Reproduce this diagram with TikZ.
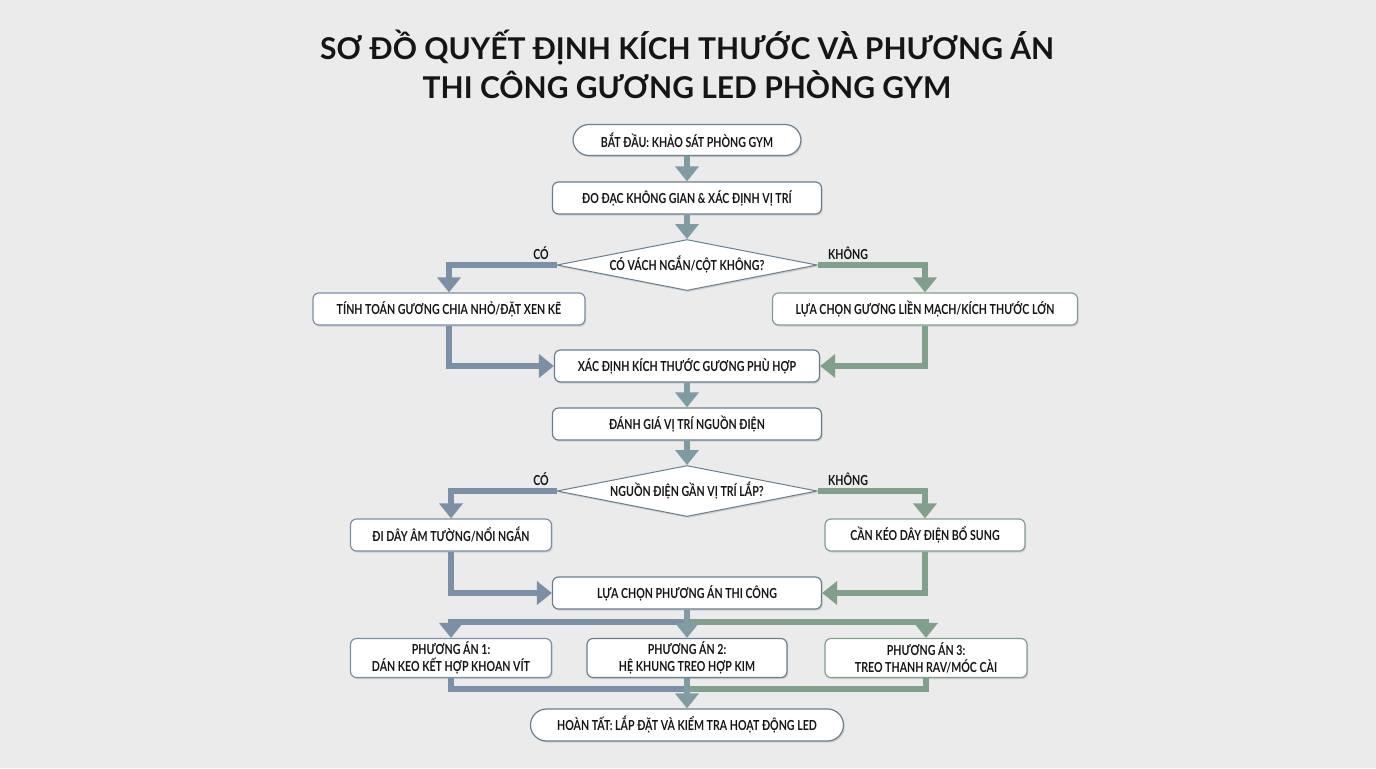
\documentclass[tikz,border=0pt]{standalone}
\usepackage{fontspec}
\setmainfont{Lato}
\newfontfamily\bodyfont{Lato}[FakeStretch=0.77]
\usetikzlibrary{shapes.geometric,arrows.meta,shadows}
\definecolor{bgc}{HTML}{EBEBEB}
\definecolor{colL}{HTML}{7B8FA6}
\definecolor{colR}{HTML}{80A08B}
\definecolor{colC}{HTML}{7F9CA2}
\definecolor{bordC}{HTML}{6A7F8E}
\definecolor{txt}{HTML}{151515}
\tikzset{
  x=0.5pt, y=-0.5pt,
  shad/.style={drop shadow={shadow xshift=0.6pt, shadow yshift=-0.8pt, opacity=0.22, fill=black!60}},
  box/.style={draw=#1, line width=0.6pt, fill=white, rounded corners=3pt, shad,
    font=\bodyfont\bfseries\fontsize{6.9}{8.2}\selectfont, text=txt, align=center,
    inner sep=1pt, minimum height=16pt},
  box/.default=bordC,
  pill/.style={box, rounded corners=8pt},
  dec/.style={diamond, draw=bordC, line width=0.5pt, fill=white, shad, aspect=5.1,
    inner sep=0pt, minimum width=130pt, minimum height=25.5pt,
    font=\bodyfont\bfseries\fontsize{6.9}{8.2}\selectfont, text=txt},
  lbl/.style={font=\bodyfont\bfseries\fontsize{6.9}{8.2}\selectfont, text=txt},
  arr/.style={draw=#1, line width=3pt, -{Triangle[length=7.5pt,width=11.5pt]}},
  ln/.style={draw=#1, line width=3pt},
}
\begin{document}
\begin{tikzpicture}
\fill[bgc] (0,0) rectangle (1376,768);
\useasboundingbox (0,0) rectangle (1376,768);

\node[font=\bfseries\fontsize{15}{18}\selectfont, text=txt] (t1) at (687,48) {SƠ ĐỒ QUYẾT ĐỊNH KÍCH THƯỚC VÀ PHƯƠNG ÁN};
\node[font=\bfseries\fontsize{15}{18}\selectfont, text=txt] (t2) at (687,85) {THI CÔNG GƯƠNG LED PHÒNG GYM};

\node[pill, minimum width=114pt, minimum height=15.5pt] (s) at (687,140) {BẮT ĐẦU: KHẢO SÁT PHÒNG GYM};
\node[box, minimum width=134.5pt] (m) at (687,198) {ĐO ĐẠC KHÔNG GIAN \& XÁC ĐỊNH VỊ TRÍ};
\node[dec] (d1) at (687,265) {CÓ VÁCH NGẮN/CỘT KHÔNG?};
\node[box=colL, minimum width=136pt] (l1) at (449,309) {TÍNH TOÁN GƯƠNG CHIA NHỎ/ĐẶT XEN KẼ};
\node[box=colR, minimum width=152.5pt] (r1) at (925,309) {LỰA CHỌN GƯƠNG LIỀN MẠCH/KÍCH THƯỚC LỚN};
\node[box, minimum width=132.5pt] (x) at (687,366) {XÁC ĐỊNH KÍCH THƯỚC GƯƠNG PHÙ HỢP};
\node[box, minimum width=134.5pt] (e) at (687,424) {ĐÁNH GIÁ VỊ TRÍ NGUỒN ĐIỆN};
\node[dec] (d2) at (687,491) {NGUỒN ĐIỆN GẦN VỊ TRÍ LẮP?};
\node[box=colL, minimum width=100.5pt] (l2) at (451,535) {ĐI DÂY ÂM TƯỜNG/NỔI NGẮN};
\node[box=colR, minimum width=100pt] (r2) at (925,535) {CẦN KÉO DÂY ĐIỆN BỔ SUNG};
\node[box, minimum width=134.5pt] (lc) at (687,593) {LỰA CHỌN PHƯƠNG ÁN THI CÔNG};
\node[box=colL, minimum width=100.5pt, minimum height=19.5pt] (p1) at (451,658) {PHƯƠNG ÁN 1:\\DÁN KEO KẾT HỢP KHOAN VÍT};
\node[box, minimum width=100pt, minimum height=19.5pt] (p2) at (687,658) {PHƯƠNG ÁN 2:\\HỆ KHUNG TREO HỢP KIM};
\node[box=colR, minimum width=101pt, minimum height=19.5pt] (p3) at (926,658) {PHƯƠNG ÁN 3:\\TREO THANH RAV/MÓC CÀI};
\node[pill, minimum width=156.5pt] (f) at (687,725) {HOÀN TẤT: LẮP ĐẶT VÀ KIỂM TRA HOẠT ĐỘNG LED};

\draw[arr=colC] (s) -- (m);
\draw[arr=colC] (m) -- (d1);
\draw[arr=colL] (d1.west) -| (l1.north);
\draw[arr=colR] (d1.east) -| (r1.north);
\draw[arr=colL] (l1.south) |- (x.west);
\draw[arr=colR] (r1.south) |- (x.east);
\draw[arr=colC] (x) -- (e);
\draw[arr=colC] (e) -- (d2);
\draw[arr=colL] (d2.west) -| (l2.north);
\draw[arr=colR] (d2.east) -| (r2.north);
\draw[arr=colL] (l2.south) |- (lc.west);
\draw[arr=colR] (r2.south) |- (lc.east);

\coordinate (fan) at (687,622);
\coordinate (mrg) at (687,689);
\draw[arr=colL] (fan) -| (p1.north);
\draw[arr=colR] (fan) -| (p3.north);
\draw[arr=colC] (lc) -- (p2);
\draw[ln=colL] (p1.south) |- (mrg);
\draw[ln=colR] (p3.south) |- (mrg);
\draw[arr=colC] (p2) -- (f);

\node[lbl] (c1) at (541,253) {CÓ};
\node[lbl] (k1) at (848,253) {KHÔNG};
\node[lbl] (c2) at (541,479) {CÓ};
\node[lbl] (k2) at (848,479) {KHÔNG};
\end{tikzpicture}
\end{document}
